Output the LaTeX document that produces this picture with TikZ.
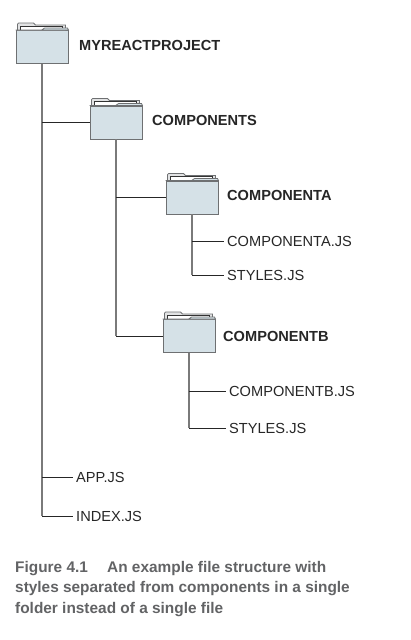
\documentclass[tikz,border=0pt]{standalone}
\usepackage{fontspec}
\setmainfont{Liberation Sans}
\usetikzlibrary{positioning,calc}
\definecolor{folderblue}{HTML}{D5E1E7}
\definecolor{foldergray}{HTML}{6E7072}
\definecolor{tabgray}{HTML}{E2E3E4}
\definecolor{captiongray}{HTML}{626365}
\definecolor{linegray}{HTML}{7A7A7A}
% back tab, paper sheet and raised flap of a folder body
\newcommand{\foldertop}[1]{
  \draw[foldertab] ($(#1.north west)+(2,0)$) -- ++(0,-6) -- ++(1,-1) -- ++(15,0) -- ++(2,2) -- ++(30,0) -- ++(0,5);
  \draw[folderpaper] ($(#1.north west)+(5,0)$) -- ++(0,-4) -- ++(42,0) -- ++(0,4);
  \draw[folderflap] (#1.north west) -- ++(26,0) -- ++(3,-2) -- ++(23,0) -- (#1.north east) -- cycle;
}

\begin{document}
\begin{tikzpicture}[
    x=1pt, y=-1pt,
    folder/.style={draw=foldergray, fill=folderblue, line width=0.9pt, minimum width=52pt,
                   minimum height=33pt, inner sep=0pt},
    foldertab/.style={draw=foldergray, fill=tabgray, line width=0.8pt},
    folderpaper/.style={draw=black!80, fill=white, line width=0.7pt},
    folderflap/.style={draw=foldergray, fill=folderblue, line width=0.8pt},
    trunk/.style={draw=linegray, line width=1.2pt},
    branch/.style={draw=black!85, line width=0.7pt},
    dirlabel/.style={font=\fontsize{14.6}{16}\selectfont\bfseries, text=black!85, inner sep=0pt, anchor=west},
    filelabel/.style={font=\fontsize{14.6}{16}\selectfont, text=black!85, inner sep=3pt, anchor=west},
    caption/.style={font=\fontsize{15.4}{20.5}\selectfont\bfseries, text=captiongray, inner sep=0pt,
                    anchor=north west, align=left}
]
\useasboundingbox (0,0) rectangle (411,640);

% --- folders ---
\node[folder] (root) at (42,47) {};
\node[folder] (comps) at (116,122.5) {};
\node[folder] (compa) at (192,197.5) {};
\node[folder] (compb) at (189,336) {};
\foldertop{root}
\foldertop{comps}
\foldertop{compa}
\foldertop{compb}

% --- folder names ---
\node[dirlabel] (rootname) at (79,45) {MYREACTPROJECT};
\node[dirlabel] (compsname) at (152,120) {COMPONENTS};
\node[dirlabel] (companame) at (227,195) {COMPONENTA};
\node[dirlabel] (compbname) at (223,336) {COMPONENTB};

% --- files ---
\node[filelabel] (compajs) at (224,241) {COMPONENTA.JS};
\node[filelabel] (stylesa) at (224,275) {STYLES.JS};
\node[filelabel] (compbjs) at (226,391) {COMPONENTB.JS};
\node[filelabel] (stylesb) at (226,428) {STYLES.JS};
\node[filelabel] (appjs) at (73,477) {APP.JS};
\node[filelabel] (indexjs) at (73,516) {INDEX.JS};

% --- connectors ---
\draw[trunk] (root.south) -- (root.south |- indexjs.west);
\draw[trunk] (comps.south) -- (comps.south |- compb.west);
\draw[trunk] (compa.south) -- (compa.south |- stylesa.west);
\draw[trunk] (compb.south) -- (compb.south |- stylesb.west);
\draw[branch] (root.south |- comps.west) -- (comps.west);
\draw[branch] (comps.south |- compa.west) -- (compa.west);
\draw[branch] (comps.south |- compb.west) -- (compb.west);
\draw[branch] (compa.south |- compajs.west) -- (compajs.west);
\draw[branch] (compa.south |- stylesa.west) -- (stylesa.west);
\draw[branch] (compb.south |- compbjs.west) -- (compbjs.west);
\draw[branch] (compb.south |- stylesb.west) -- (stylesb.west);
\draw[branch] (root.south |- appjs.west) -- (appjs.west);
\draw[branch] (root.south |- indexjs.west) -- (indexjs.west);

% --- caption ---
\node[caption] (figcaption) at (15,561)
  {Figure 4.1\hspace{1.25em}An example file structure with\\
   styles separated from components in a single\\
   folder instead of a single file};

\end{tikzpicture}
\end{document}
